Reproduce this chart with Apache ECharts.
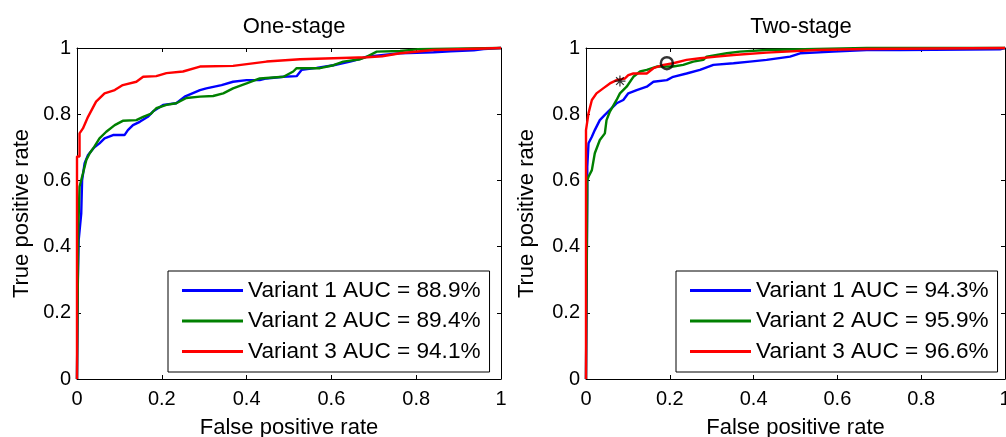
<!DOCTYPE html>
<html>
<head>
<meta charset="utf-8">
<script src="https://cdn.jsdelivr.net/npm/echarts@6/dist/echarts.min.js"></script>
<style>
html,body{margin:0;padding:0;background:#fff;}
#chart{width:1006px;height:437px;}
</style>
</head>
<body>
<div id="chart"></div>
<script>
// ---------- DATA ----------
const titles = ["One-stage", "Two-stage"];
const xAxisName = "False positive rate";
const yAxisName = "True positive rate";
const tickValues = [0, 0.2, 0.4, 0.6, 0.8, 1];

const namesOne = ["Variant 1 AUC = 88.9%", "Variant 2 AUC = 89.4%", "Variant 3 AUC = 94.1%"];
const namesTwo = ["Variant 1 AUC = 94.3%", "Variant 2 AUC = 95.9%", "Variant 3 AUC = 96.6%"];

const oneV1 = [[0,0],[0.002,0.3],[0.004,0.42],[0.01,0.5],[0.012,0.6],[0.018,0.652],[0.026,0.677],[0.041,0.70],[0.053,0.712],[0.065,0.727],[0.085,0.737],[0.112,0.737],[0.12,0.752],[0.132,0.767],[0.148,0.777],[0.167,0.792],[0.179,0.808],[0.203,0.828],[0.234,0.833],[0.254,0.853],[0.29,0.873],[0.305,0.878],[0.341,0.888],[0.368,0.898],[0.4,0.903],[0.431,0.903],[0.447,0.908],[0.487,0.913],[0.518,0.915],[0.53,0.934],[0.565,0.94],[0.605,0.948],[0.644,0.959],[0.664,0.966],[0.684,0.974],[0.762,0.984],[0.841,0.987],[0.881,0.99],[0.936,0.993],[0.959,0.997],[1,1]];
const oneV2 = [[0,0],[0.003,0.45],[0.006,0.581],[0.014,0.621],[0.022,0.662],[0.03,0.682],[0.041,0.702],[0.053,0.727],[0.069,0.747],[0.089,0.767],[0.108,0.78],[0.14,0.782],[0.156,0.792],[0.175,0.802],[0.187,0.818],[0.211,0.828],[0.234,0.833],[0.258,0.849],[0.29,0.853],[0.321,0.855],[0.345,0.863],[0.368,0.878],[0.4,0.893],[0.431,0.908],[0.487,0.913],[0.51,0.929],[0.518,0.939],[0.573,0.939],[0.605,0.948],[0.628,0.959],[0.668,0.966],[0.684,0.974],[0.707,0.989],[0.762,0.991],[0.802,0.996],[0.841,0.997],[1,1]];
const oneV3 = [[0,0],[0,0.672],[0.006,0.672],[0.006,0.742],[0.014,0.757],[0.026,0.792],[0.045,0.838],[0.065,0.863],[0.089,0.873],[0.108,0.888],[0.14,0.898],[0.156,0.913],[0.187,0.915],[0.211,0.924],[0.25,0.929],[0.29,0.944],[0.368,0.946],[0.447,0.959],[0.526,0.966],[0.684,0.972],[0.72,0.975],[0.762,0.984],[0.84,0.994],[1,1]];

const twoV1 = [[0,0],[0.003,0.551],[0.003,0.641],[0.006,0.712],[0.014,0.732],[0.021,0.752],[0.033,0.782],[0.045,0.798],[0.057,0.813],[0.073,0.833],[0.089,0.843],[0.101,0.863],[0.121,0.873],[0.145,0.883],[0.161,0.898],[0.193,0.903],[0.208,0.913],[0.24,0.923],[0.272,0.934],[0.304,0.949],[0.352,0.954],[0.391,0.959],[0.431,0.964],[0.487,0.974],[0.511,0.984],[0.59,0.989],[0.67,0.994],[0.749,0.994],[0.988,0.996],[1,1]];
const twoV2 = [[0,0],[0.003,0.6],[0.006,0.611],[0.014,0.631],[0.021,0.682],[0.033,0.722],[0.045,0.742],[0.049,0.782],[0.057,0.808],[0.073,0.843],[0.081,0.863],[0.097,0.883],[0.113,0.913],[0.129,0.929],[0.145,0.934],[0.169,0.944],[0.208,0.944],[0.232,0.949],[0.256,0.959],[0.28,0.964],[0.288,0.974],[0.336,0.984],[0.367,0.989],[0.431,0.994],[0.551,0.997],[0.67,1],[1,1]];
const twoV3 = [[0,0],[0,0.752],[0.006,0.803],[0.014,0.843],[0.025,0.863],[0.041,0.878],[0.057,0.893],[0.073,0.903],[0.093,0.908],[0.101,0.918],[0.113,0.923],[0.145,0.923],[0.161,0.939],[0.185,0.949],[0.208,0.954],[0.24,0.964],[0.272,0.969],[0.312,0.974],[0.352,0.979],[0.431,0.986],[0.551,0.994],[0.67,0.997],[1,1]];

const starPoint = [[0.081, 0.900]];
const circlePoint = [[0.193, 0.954]];

// ---------- STYLE ----------
const colors = ["#0000ff", "#008000", "#ff0000"];
const FONT = "Liberation Sans, Arial, sans-serif";

const grids = [
  {left: 77, right: 505, top: 48, bottom: 58, containLabel: false, outerBoundsMode: 'none'},
  {left: 586, width: 419, top: 48, bottom: 58, containLabel: false, outerBoundsMode: 'none'}
];

function axisBase(gridIndex, position, isX, showLabel, nameGap) {
  const a = {
    type: 'value', gridIndex: gridIndex, position: position,
    min: 0, max: 1, interval: 0.2,
    axisLine: {show: true, onZero: false, lineStyle: {color: '#000', width: 1}},
    axisTick: {show: true, inside: true, length: 4, lineStyle: {color: '#000', width: 1}},
    splitLine: {show: false},
    axisLabel: {show: showLabel, color: '#000', fontSize: 20, fontFamily: FONT, margin: isX ? 10 : 6,
                hideOverlap: false, showMinLabel: true, showMaxLabel: true}
  };
  if (showLabel) {
    a.name = isX ? xAxisName : yAxisName;
    a.nameLocation = 'middle';
    a.nameGap = nameGap;
    a.nameTextStyle = {color: '#000', fontSize: 22, fontFamily: FONT};
  }
  return a;
}

const xAxes = [
  axisBase(0, 'bottom', true, true, 38),
  axisBase(0, 'top', true, false),
  axisBase(1, 'bottom', true, true, 38),
  axisBase(1, 'top', true, false)
];
const yAxes = [
  axisBase(0, 'left', false, true, 44),
  axisBase(0, 'right', false, false),
  axisBase(1, 'left', false, true, 48),
  axisBase(1, 'right', false, false)
];

function lineSeries(name, data, color, axisIdx) {
  return {
    name: name, type: 'line', data: data,
    xAxisIndex: axisIdx, yAxisIndex: axisIdx,
    showSymbol: false, symbol: 'none',
    lineStyle: {color: color, width: 2.4},
    itemStyle: {color: color},
    animation: false, clip: false, z: 3
  };
}

const series = [
  lineSeries(namesOne[0], oneV1, colors[0], 0),
  lineSeries(namesOne[1], oneV2, colors[1], 0),
  lineSeries(namesOne[2], oneV3, colors[2], 0),
  lineSeries(namesTwo[0], twoV1, colors[0], 2),
  lineSeries(namesTwo[1], twoV2, colors[1], 2),
  lineSeries(namesTwo[2], twoV3, colors[2], 2),
  {
    type: 'scatter', data: starPoint, xAxisIndex: 2, yAxisIndex: 2,
    symbol: 'path://M0,5 L10,5 M5,0 L5,10 M1.5,1.5 L8.5,8.5 M1.5,8.5 L8.5,1.5',
    symbolSize: 11,
    itemStyle: {color: 'none', borderColor: '#000', borderWidth: 1.2},
    animation: false, z: 5
  },
  {
    type: 'scatter', data: circlePoint, xAxisIndex: 2, yAxisIndex: 2,
    symbol: 'circle', symbolSize: 12,
    itemStyle: {color: 'rgba(0,0,0,0)', borderColor: '#000', borderWidth: 2.5},
    animation: false, z: 5
  }
];

function legendFor(names, left) {
  return {
    data: names, orient: 'vertical', left: left, top: 271,
    icon: 'rect', itemWidth: 61, itemHeight: 3, itemGap: 7.5,
    padding: [8, 9, 9, 14],
    borderColor: '#000', borderWidth: 1, backgroundColor: '#fff',
    selectedMode: false,
    textStyle: {color: '#000', fontSize: 22.6, fontFamily: FONT, lineHeight: 22}
  };
}

const option = {
  backgroundColor: '#fff',
  animation: false,
  title: [
    {text: titles[0], left: 289, top: 11, textAlign: 'center',
     textStyle: {color: '#000', fontSize: 22, fontWeight: 'normal', fontFamily: FONT}},
    {text: titles[1], left: 796, top: 11, textAlign: 'center',
     textStyle: {color: '#000', fontSize: 22, fontWeight: 'normal', fontFamily: FONT}}
  ],
  grid: grids,
  xAxis: xAxes,
  yAxis: yAxes,
  legend: [legendFor(namesOne, 168), legendFor(namesTwo, 676)],
  series: series
};

const chart = echarts.init(document.getElementById('chart'), null, {renderer: 'canvas'});
chart.setOption(option);
</script>
</body>
</html>
